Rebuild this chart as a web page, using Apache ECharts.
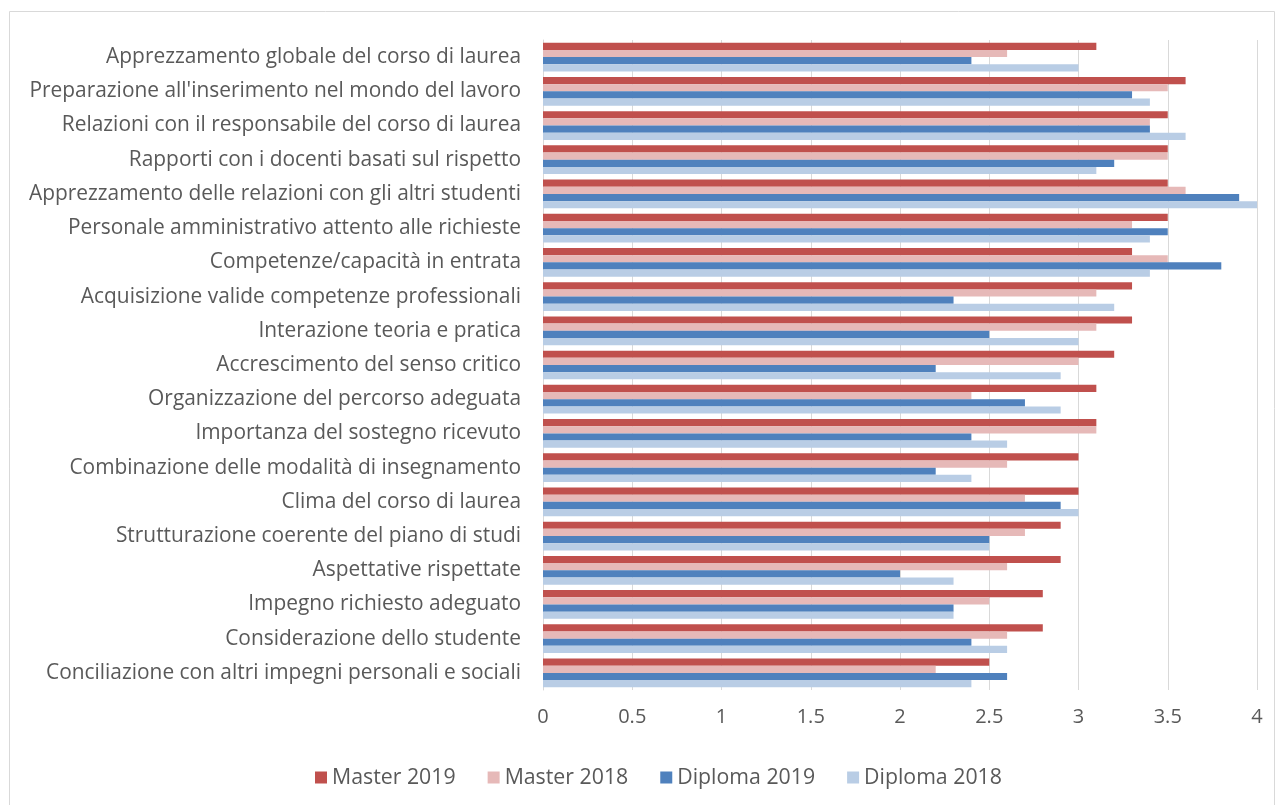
<!DOCTYPE html>
<html>
<head>
<meta charset="utf-8">
<script src="https://cdn.jsdelivr.net/npm/echarts@6/dist/echarts.min.js"></script>
<style>
  html, body { margin: 0; padding: 0; background: #fff; }
  #chart { width: 1281px; height: 805px; }
</style>
</head>
<body>
<div id="chart"></div>
<script>
// categorie (dall'alto verso il basso)
var categories = [
  'Apprezzamento globale del corso di laurea',
  "Preparazione all'inserimento nel mondo del lavoro",
  'Relazioni con il responsabile del corso di laurea',
  'Rapporti con i docenti basati sul rispetto',
  'Apprezzamento delle relazioni con gli altri studenti',
  'Personale amministrativo attento alle richieste',
  'Competenze/capacità in entrata',
  'Acquisizione valide competenze professionali',
  'Interazione teoria e pratica',
  'Accrescimento del senso critico',
  'Organizzazione del percorso adeguata',
  'Importanza del sostegno ricevuto',
  'Combinazione delle modalità di insegnamento',
  'Clima del corso di laurea',
  'Strutturazione coerente del piano di studi',
  'Aspettative rispettate',
  'Impegno richiesto adeguato',
  'Considerazione dello studente',
  'Conciliazione con altri impegni personali e sociali'
];

var master2019  = [3.1, 3.6, 3.5, 3.5, 3.5, 3.5, 3.3, 3.3, 3.3, 3.2, 3.1, 3.1, 3.0, 3.0, 2.9, 2.9, 2.8, 2.8, 2.5];
var master2018  = [2.6, 3.5, 3.4, 3.5, 3.6, 3.3, 3.5, 3.1, 3.1, 3.0, 2.4, 3.1, 2.6, 2.7, 2.7, 2.6, 2.5, 2.6, 2.2];
var diploma2019 = [2.4, 3.3, 3.4, 3.2, 3.9, 3.5, 3.8, 2.3, 2.5, 2.2, 2.7, 2.4, 2.2, 2.9, 2.5, 2.0, 2.3, 2.4, 2.6];
var diploma2018 = [3.0, 3.4, 3.6, 3.1, 4.0, 3.4, 3.4, 3.2, 3.0, 2.9, 2.9, 2.6, 2.4, 3.0, 2.5, 2.3, 2.3, 2.6, 2.4];

var seriesNames = ['Master 2019', 'Master 2018', 'Diploma 2019', 'Diploma 2018'];
var xTicks = [0, 0.5, 1, 1.5, 2, 2.5, 3, 3.5, 4];

var FONT = '"Open Sans", sans-serif';
var TEXT = '#595959';

var myChart = echarts.init(document.getElementById('chart'));

function bar(name, data){
	return {
		name: name,
		type: 'bar',
		data: data,
		barGap: '0%',
		barCategoryGap: '16%'
	};
}

var option = {
	animation: false,
	color: ['#c0504d', '#e6b9b8', '#4f81bd', '#b9cde5'],
	textStyle: { fontFamily: FONT },
	graphic: [{
		type: 'rect',
		shape: { x: 9.5, y: 11.5, width: 1265, height: 800 },
		style: { fill: 'none', stroke: '#d9d9d9', lineWidth: 1 },
		silent: true
	}],
	grid: { left: 543, right: 24, top: 40, bottom: 115 },
	legend: {
		data: seriesNames,
		top: 762,
		left: 310,
		itemWidth: 12,
		itemHeight: 12,
		itemGap: 32,
		icon: 'rect',
		textStyle: { color: TEXT, fontSize: 21.3, fontFamily: FONT }
	},
	xAxis: {
		type: 'value',
		min: xTicks[0],
		max: xTicks[xTicks.length - 1],
		interval: 0.5,
		axisLine: { show: false },
		axisTick: { show: false },
		splitLine: { show: true, lineStyle: { color: '#d9d9d9', width: 1 } },
		axisLabel: { color: TEXT, fontSize: 20, margin: 17, fontFamily: FONT }
	},
	yAxis: {
		type: 'category',
		data: categories,
		inverse: true,
		axisLine: { show: true, lineStyle: { color: '#d9d9d9' } },
		axisTick: { show: false },
		axisLabel: { color: TEXT, fontSize: 20.9, margin: 22, fontFamily: FONT, interval: 0 }
	},
	series: [
		bar(seriesNames[0], master2019),
		bar(seriesNames[1], master2018),
		bar(seriesNames[2], diploma2019),
		bar(seriesNames[3], diploma2018)
	]
};

myChart.setOption(option);
</script>
</body>
</html>
